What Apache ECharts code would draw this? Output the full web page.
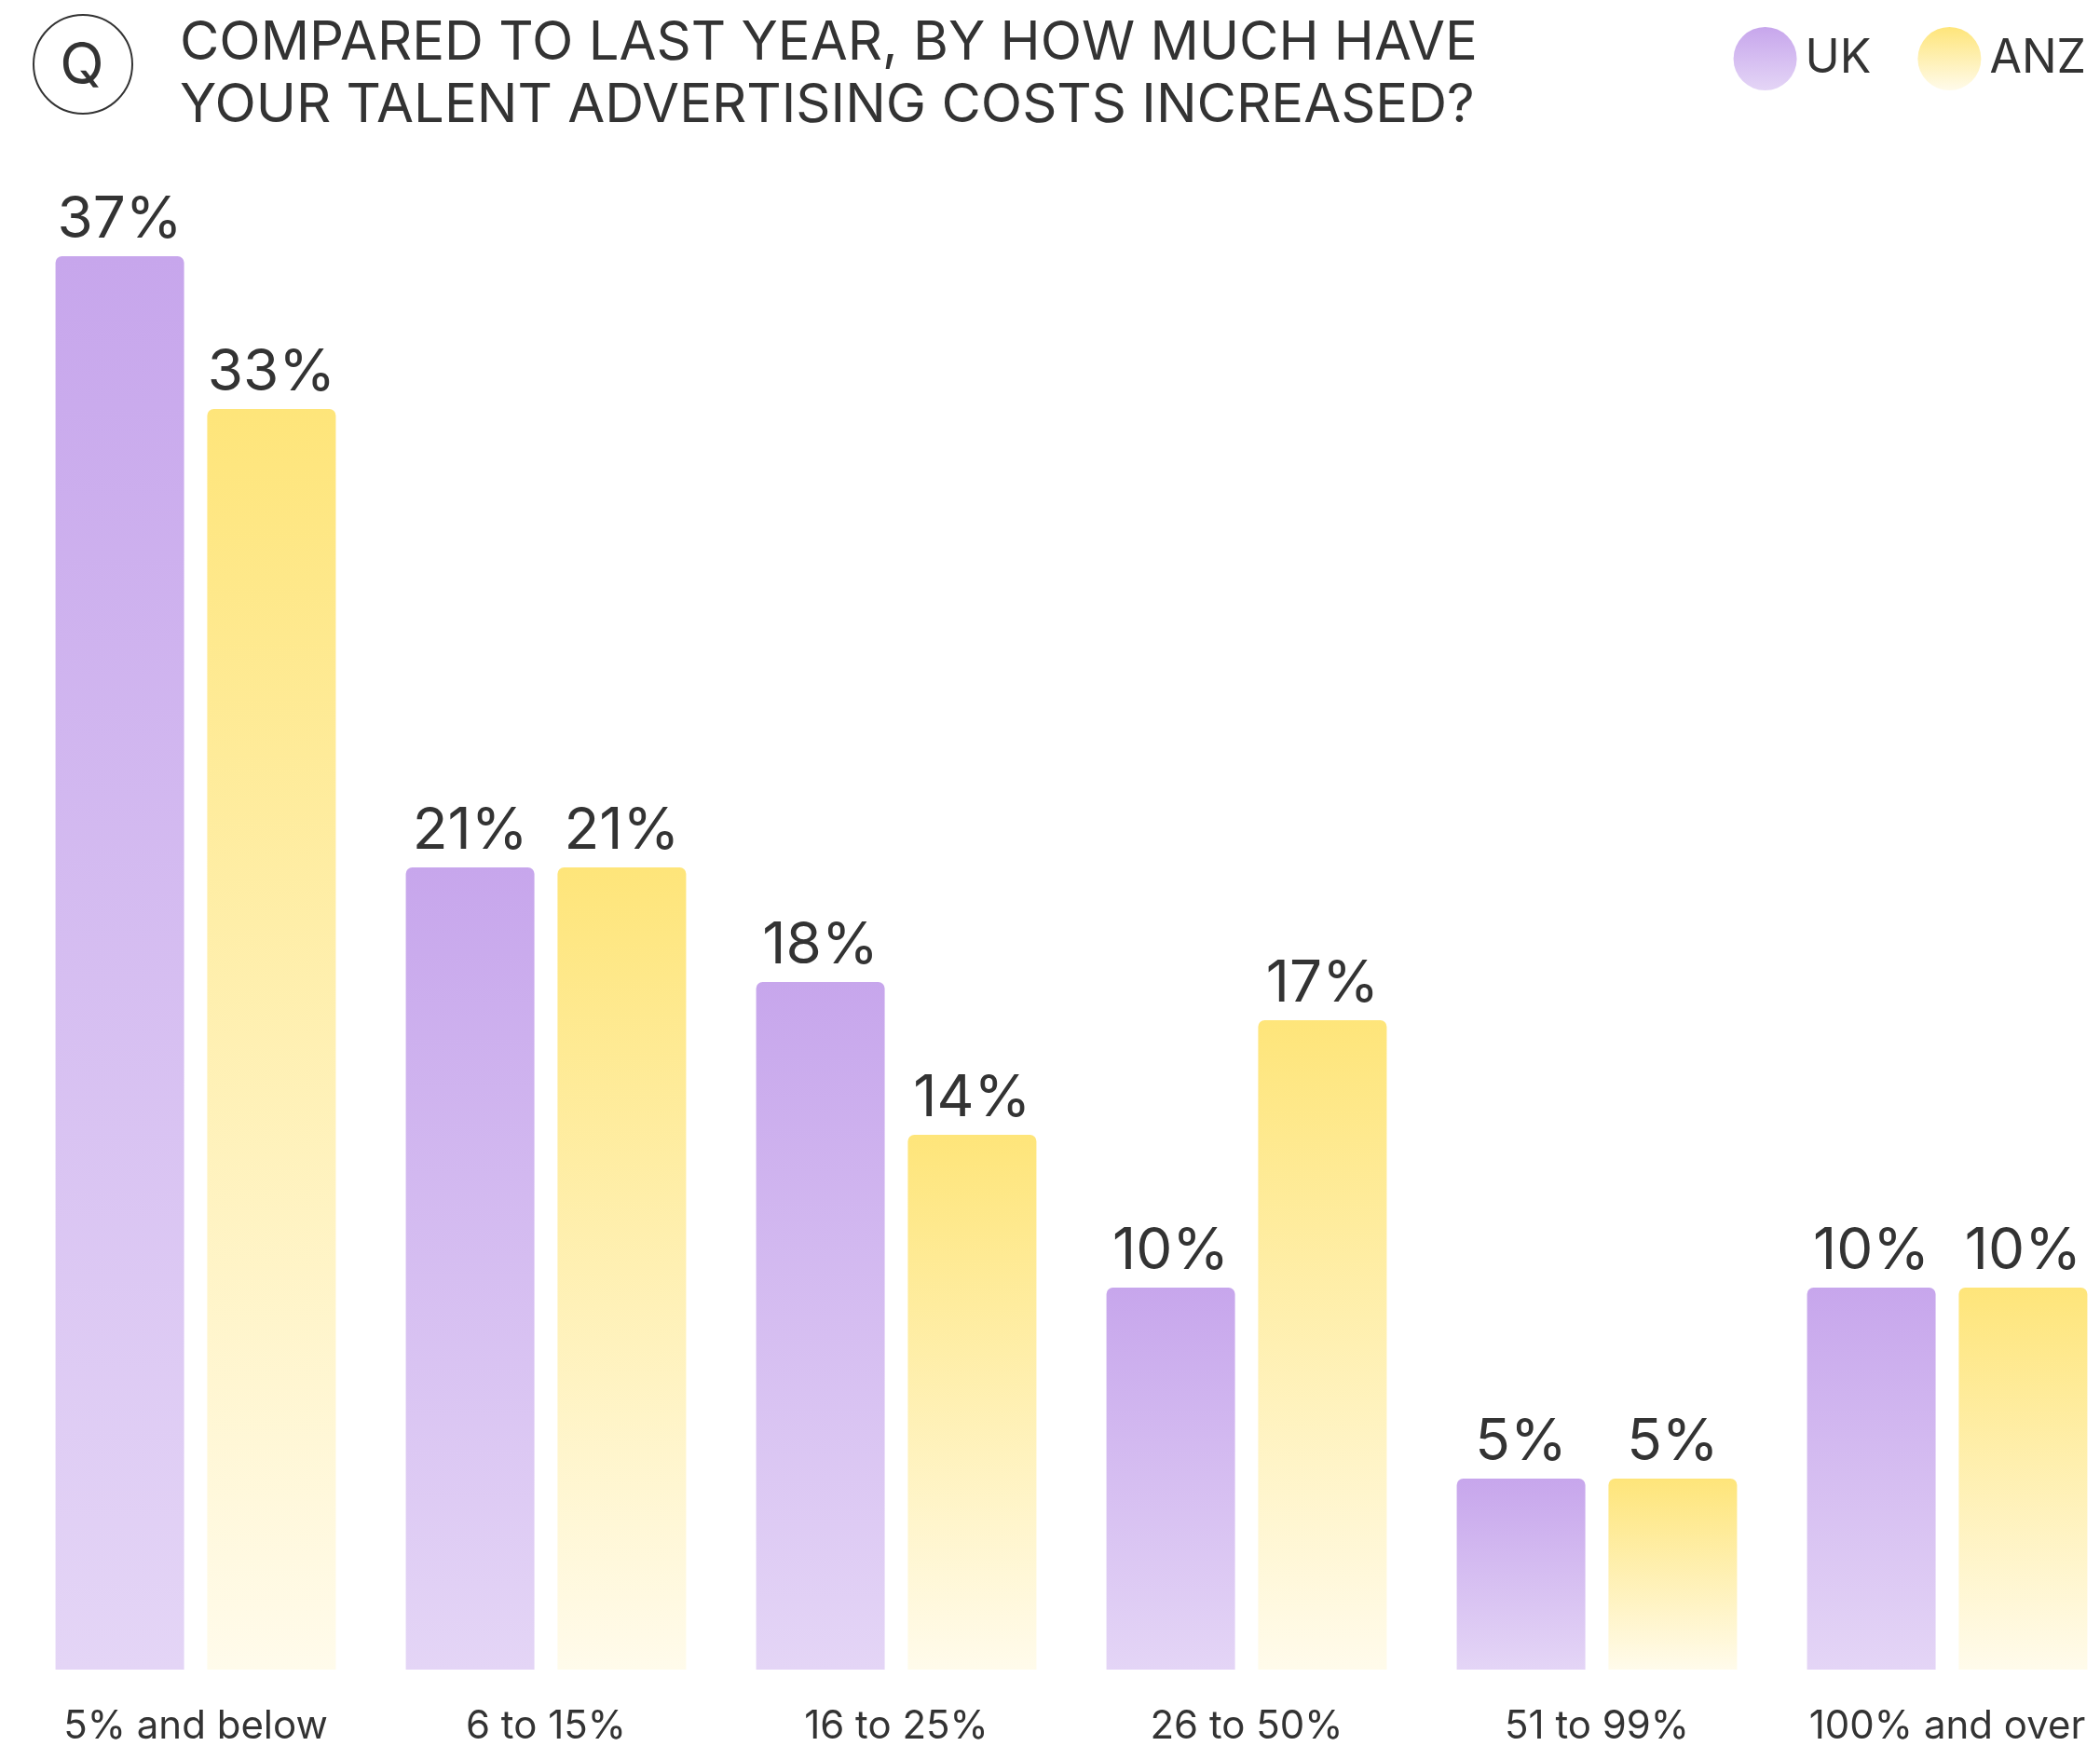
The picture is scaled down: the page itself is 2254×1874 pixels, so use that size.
<!DOCTYPE html>
<html>
<head>
<meta charset="utf-8">
<title>Talent advertising cost increases</title>
<script src="https://cdn.jsdelivr.net/npm/echarts@6/dist/echarts.min.js"></script>
<style>
  html, body { margin: 0; padding: 0; background: #ffffff; overflow: hidden; }
  /* canvas runs a little past the right edge so the last bar sits flush */
  #chart { width: 2278px; height: 1874px; }
</style>
</head>
<body>
<div id="chart"></div>
<script>
// Survey answer buckets (increase vs last year)
const categories = ['5% and below', '6 to 15%', '16 to 25%', '26 to 50%', '51 to 99%', '100% and over'];
// Share of respondents, percent
const ukValues = [37, 21, 18, 10, 5, 10];
const anzValues = [33, 21, 14, 17, 5, 10];
const seriesNames = ['UK', 'ANZ'];

const TEXT = '#333333';
const FONT = 'Inter, "Noto Sans", sans-serif';

function vGrad(top, bottom) {
  return new echarts.graphic.LinearGradient(0, 0, 0, 1, [
    { offset: 0, color: top },
    { offset: 1, color: bottom }
  ]);
}

const chart = echarts.init(document.getElementById('chart'), null, { renderer: 'canvas' });

const labelCfg = {
  show: true,
  position: 'top',
  distance: 8,
  formatter: '{c}%',
  color: TEXT,
  fontFamily: FONT,
  fontSize: 62,
  fontWeight: 400
};

chart.setOption({
  backgroundColor: '#ffffff',
  animation: false,
  title: {
    text: 'COMPARED TO LAST YEAR, BY HOW MUCH HAVE\nYOUR TALENT ADVERTISING COSTS INCREASED?',
    left: 188,
    top: 8,
    textStyle: {
      color: TEXT,
      fontFamily: FONT,
      fontSize: 58,
      fontWeight: 400,
      lineHeight: 67
    }
  },
  graphic: [
    {
      type: 'circle',
      shape: { cx: 89, cy: 69, r: 53 },
      style: { fill: 'none', stroke: TEXT, lineWidth: 2 }
    },
    {
      type: 'text',
      x: 88,
      y: 71,
      style: {
        text: 'Q',
        fill: TEXT,
        font: '400 62px ' + FONT,
        textAlign: 'center',
        textVerticalAlign: 'middle'
      }
    }
  ],
  legend: {
    data: seriesNames,
    right: 34,
    top: 24,
    icon: 'circle',
    itemWidth: 68,
    itemHeight: 68,
    itemGap: 50,
    textStyle: {
      color: TEXT,
      fontFamily: FONT,
      fontSize: 50,
      padding: [0, 0, 0, 4]
    }
  },
  grid: {
    left: 22,
    right: 0,
    top: 152,
    bottom: 82,
    containLabel: false
  },
  xAxis: {
    type: 'category',
    data: categories,
    axisLine: { show: false },
    axisTick: { show: false },
    axisLabel: {
      interval: 0,
      color: TEXT,
      fontFamily: FONT,
      fontSize: 42,
      margin: 40
    }
  },
  yAxis: {
    type: 'value',
    min: 0,
    max: 40,
    show: false,
    splitLine: { show: false }
  },
  series: [
    {
      name: seriesNames[0],
      type: 'bar',
      data: ukValues,
      barWidth: 138,
      barGap: '18%',
      itemStyle: {
        color: vGrad('#c7a6ec', '#e4d5f6'),
        borderRadius: [7, 7, 0, 0]
      },
      label: labelCfg
    },
    {
      name: seriesNames[1],
      type: 'bar',
      data: anzValues,
      barWidth: 138,
      barGap: '18%',
      itemStyle: {
        color: vGrad('#fee57a', '#fffbeb'),
        borderRadius: [7, 7, 0, 0]
      },
      label: labelCfg
    }
  ]
});
</script>
</body>
</html>
